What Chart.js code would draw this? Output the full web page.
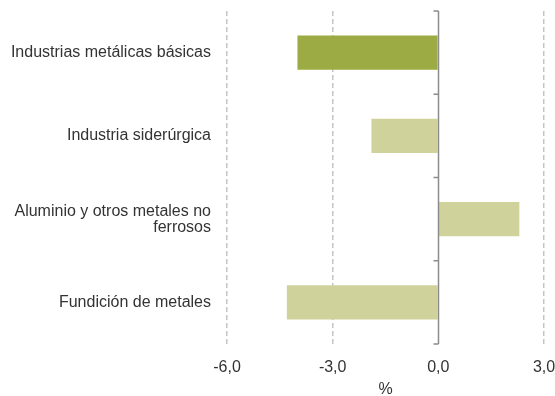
<!DOCTYPE html>
<html>
<head>
<meta charset="utf-8">
<script src="https://cdn.jsdelivr.net/npm/chart.js@4/dist/chart.umd.min.js"></script>
<style>
  html, body { margin: 0; padding: 0; background: #fff; }
  #wrap { width: 555px; height: 396px; }
</style>
</head>
<body>
<div id="wrap"><canvas id="chart"></canvas></div>
<script>
const categories = [
    "Industrias metálicas básicas",
    "Industria siderúrgica",
    ["Aluminio y otros metales no", "ferrosos"],
    "Fundición de metales"
];
const values = [-4.0, -1.9, 2.3, -4.3];
const barColors = ["#9DAB45", "#CFD39B", "#CFD39B", "#CFD39B"];
const xTicks = [-6, -3, 0, 3];

const FONT = "'Liberation Sans', Arial, Helvetica, sans-serif";
const TEXT = "#333333";

// solid zero axis with small ticks between categories
const zeroAxis = {
    id: 'zeroAxis',
    afterDatasetsDraw(chart) {
        const ctx = chart.ctx;
        const xs = chart.scales.x, ys = chart.scales.y;
        const x0 = Math.round(xs.getPixelForValue(0)) + 0.5;
        const top = chart.chartArea.top, bottom = chart.chartArea.bottom;
        ctx.save();
        ctx.strokeStyle = "#8C8C8C";
        ctx.lineWidth = 1.5;
        ctx.beginPath();
        ctx.moveTo(x0, top);
        ctx.lineTo(x0, bottom);
        for (let i = 0; i <= categories.length; i++) {
            const y = ys.getPixelForValue(i - 0.5);
            ctx.moveTo(x0 - 5, y);
            ctx.lineTo(x0, y);
        }
        ctx.stroke();
        ctx.restore();
    }
};

new Chart(document.getElementById('chart'), {
    type: 'bar',
    data: {
        labels: categories,
        datasets: [{
            data: values,
            backgroundColor: barColors,
            categoryPercentage: 1,
            barPercentage: 0.41
        }]
    },
    options: {
        indexAxis: 'y',
        responsive: true,
        maintainAspectRatio: false,
        animation: false,
        layout: { padding: { top: 11, left: 0, right: 0, bottom: 0 } },
        plugins: {
            legend: { display: false },
            tooltip: { enabled: false }
        },
        scales: {
            x: {
                min: -6,
                max: 3,
                afterBuildTicks: (s) => { s.ticks = xTicks.map(v => ({ value: v })); },
                afterFit: (s) => { s.height = 52; s.paddingLeft = 0; s.paddingRight = 11; },
                ticks: {
                    padding: 14,
                    color: TEXT,
                    font: { family: FONT, size: 16 },
                    callback: (v) => Number(v).toFixed(1).replace('.', ',')
                },
                grid: {
                    drawTicks: false,
                    color: (c) => (c.tick && c.tick.value === 0) ? 'rgba(0,0,0,0)' : '#C4C4C4',
                    lineWidth: 1.5
                },
                border: { display: false, dash: [5, 3] },
                title: {
                    display: true,
                    text: '%',
                    color: TEXT,
                    font: { family: FONT, size: 16, lineHeight: 1 },
                    padding: { top: 5, bottom: -2 }
                }
            },
            y: {
                afterFit: (s) => { s.width = 227; s.paddingTop = 0; s.paddingBottom = 0; },
                ticks: {
                    padding: 16,
                    color: TEXT,
                    font: { family: FONT, size: 16, lineHeight: 1 }
                },
                grid: { display: false, drawTicks: false },
                border: { display: false }
            }
        }
    },
    plugins: [zeroAxis]
});
</script>
</body>
</html>
